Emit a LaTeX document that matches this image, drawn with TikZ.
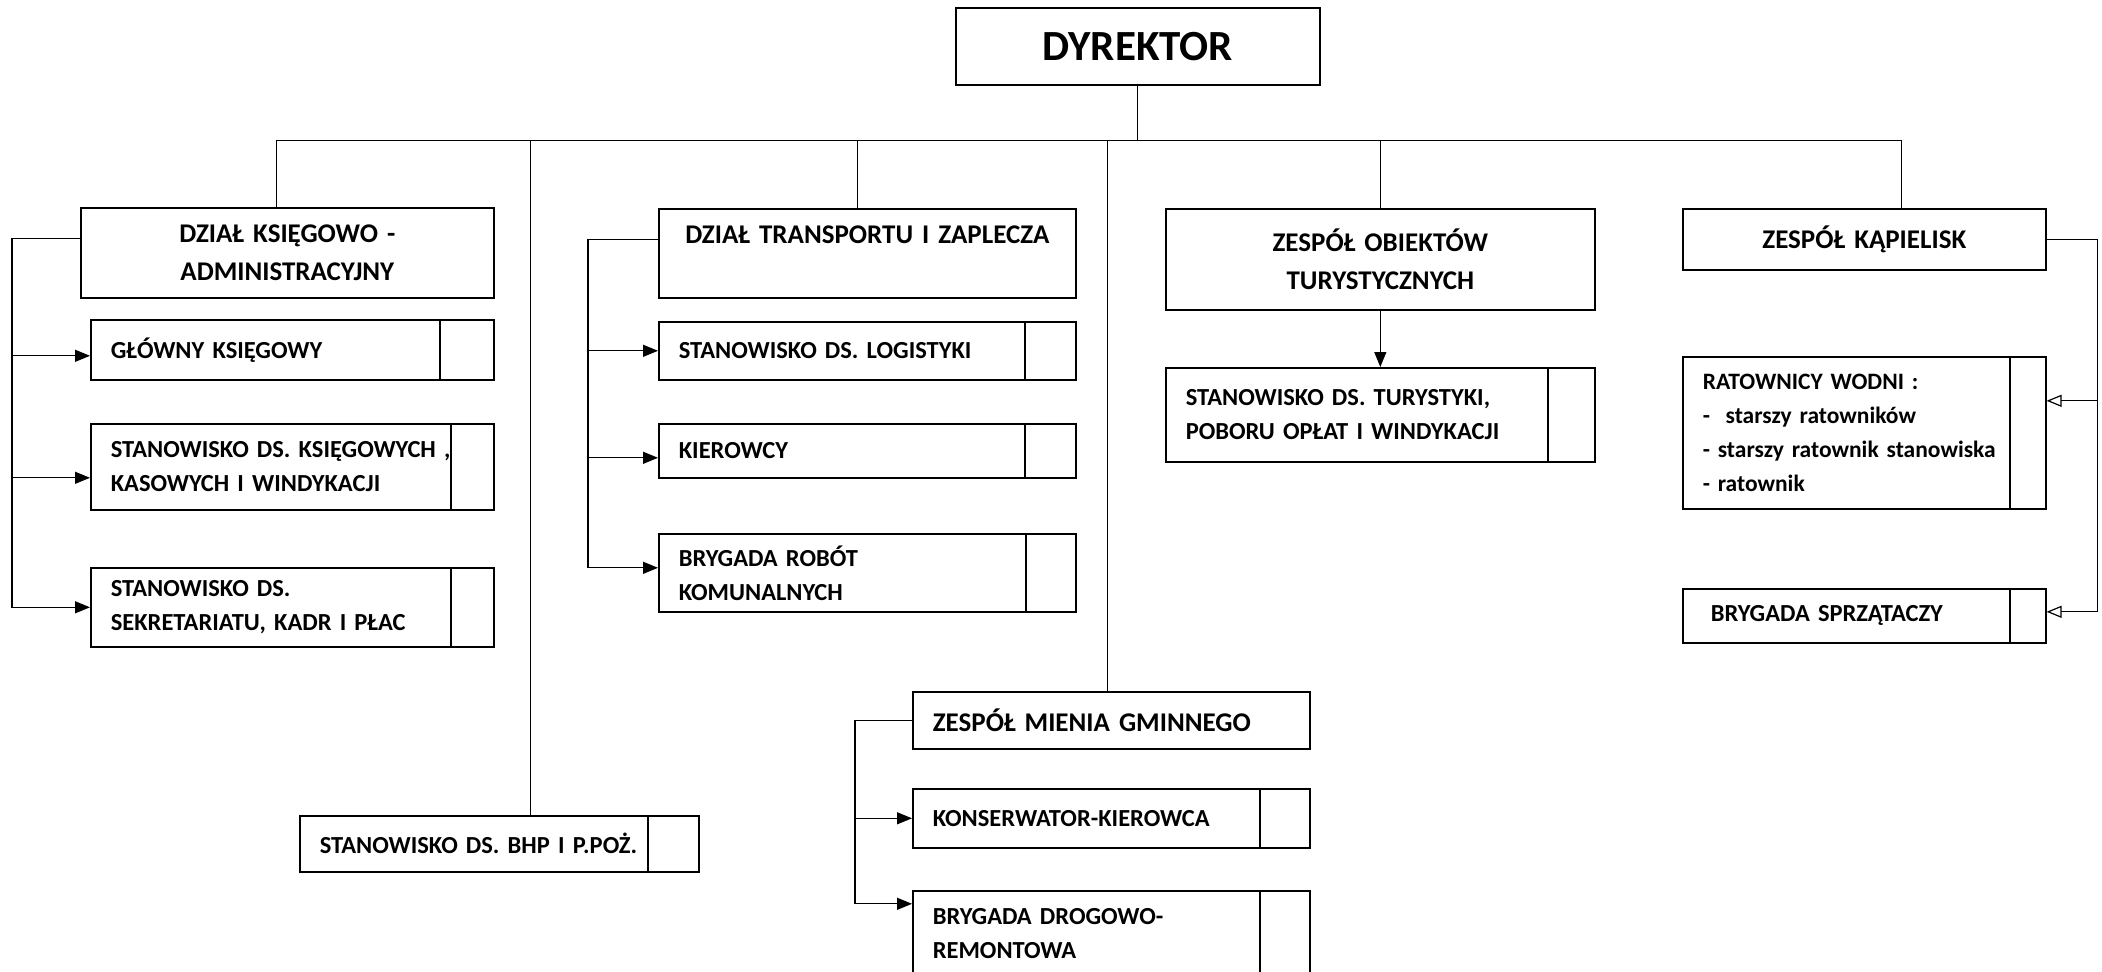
\documentclass[tikz,border=0pt]{standalone}
\usepackage{fontspec}
\setmainfont{Carlito}
\usetikzlibrary{arrows.meta}

\tikzset{
  unit/.style={draw, line width=1.6pt, anchor=north west, inner xsep=20pt, inner ysep=0pt,
    align=left, font=\bfseries\fontsize{24.5}{34}\selectfont},
  head/.style={unit, align=center, font=\bfseries\fontsize{27}{38}\selectfont},
  divider/.style={path picture={\draw[line width=1.6pt]
    ([xshift=-#1]path picture bounding box.north east) --
    ([xshift=-#1]path picture bounding box.south east);}},
  openarr/.style={-{Triangle[open, length=15pt, width=12pt]}}
}

\begin{document}
\begin{tikzpicture}[x=1pt, y=-1pt,
        line width=1.2pt,
        >={Triangle[length=15pt, width=12pt]}]
        \useasboundingbox (0,0) rectangle (2102,972);
        % top
        \node at (955,7) (dyr) [head, minimum width=364pt, minimum height=77pt, text width=324pt, font=\bfseries\fontsize{43}{50}\selectfont] {DYREKTOR};
        % dzial ksiegowo-administracyjny
        \node at (80,207) (dka) [head, minimum width=413pt, minimum height=90pt, text width=373pt] {DZIAŁ KSIĘGOWO -\\ADMINISTRACYJNY};
        \node at (90,319) (gk) [unit, divider=54pt, minimum width=403pt, minimum height=60pt, text width=363pt] {GŁÓWNY KSIĘGOWY};
        \node at (90,423) (sk) [unit, divider=43pt, minimum width=403pt, minimum height=86pt, text width=363pt] {STANOWISKO DS. KSIĘGOWYCH ,\\KASOWYCH I WINDYKACJI};
        \node at (90,567) (ss) [unit, divider=43pt, minimum width=403pt, minimum height=79pt, text width=363pt] {STANOWISKO DS.\\SEKRETARIATU, KADR I PŁAC};
        % dzial transportu
        \node at (658,208) (dtz) [head, minimum width=417pt, minimum height=89pt, text width=377pt] {DZIAŁ TRANSPORTU I ZAPLECZA\\\mbox{}};
        \node at (658,321) (sl) [unit, divider=51pt, minimum width=417pt, minimum height=58pt, text width=377pt] {STANOWISKO DS. LOGISTYKI};
        \node at (658,423) (kier) [unit, divider=51pt, minimum width=417pt, minimum height=54pt, text width=377pt] {KIEROWCY};
        \node at (658,533) (brk) [unit, divider=50pt, minimum width=417pt, minimum height=78pt, text width=377pt] {BRYGADA ROBÓT\\KOMUNALNYCH};
        % obiekty turystyczne
        \node at (1165,208) (zot) [head, minimum width=429pt, minimum height=101pt, text width=389pt] {ZESPÓŁ OBIEKTÓW\\TURYSTYCZNYCH};
        \node at (1165,367) (stu) [unit, divider=47pt, minimum width=429pt, minimum height=94pt, text width=389pt] {STANOWISKO DS. TURYSTYKI,\\POBORU OPŁAT I WINDYKACJI};
        % kapieliska
        \node at (1682,208) (zk) [head, minimum width=363pt, minimum height=61pt, text width=323pt] {ZESPÓŁ KĄPIELISK};
        \node at (1682,356) (rw) [unit, divider=36pt, minimum width=363pt, minimum height=152pt, text width=323pt, font=\bfseries\fontsize{23.5}{34}\selectfont] {RATOWNICY WODNI :\\-\ \ starszy ratowników\\- starszy ratownik stanowiska\\- ratownik};
        \node at (1682,588) (bs) [unit, divider=36pt, minimum width=363pt, minimum height=54pt, text width=323pt] {\hspace*{8pt}BRYGADA SPRZĄTACZY};
        % bhp
        \node at (299,815) (bhp) [unit, divider=51pt, minimum width=399pt, minimum height=56pt, text width=359pt] {STANOWISKO DS. BHP I P.POŻ.};
        % mienie gminne
        \node at (912,691) (zmg) [unit, minimum width=397pt, minimum height=57pt, text width=357pt, font=\bfseries\fontsize{27}{38}\selectfont] {ZESPÓŁ MIENIA GMINNEGO};
        \node at (912,788) (kk) [unit, divider=50pt, minimum width=397pt, minimum height=59pt, text width=357pt] {KONSERWATOR-KIEROWCA};
        \node at (912,890) (bdr) [unit, divider=50pt, minimum width=397pt, minimum height=86pt, text width=357pt] {BRYGADA DROGOWO-\\REMONTOWA};

        % bus
        \path (dyr.south) ++(0,55) coordinate (bus);
        \draw (dyr.south) -- (bus);
        \draw ([xshift=-11pt]dka.north) |- (bus) -| ([xshift=37pt]zk.north);
        \draw ([xshift=31pt]bhp.north) -- ([xshift=31pt]bhp.north |- bus);
        \draw ([xshift=-10pt]dtz.north) -- ([xshift=-10pt]dtz.north |- bus);
        \draw ([xshift=-4pt]zmg.north) -- ([xshift=-4pt]zmg.north |- bus);
        \draw (zot.north) -- (zot.north |- bus);

        \draw[->] ([yshift=14pt]dka.west) -| ([xshift=-78pt]ss.west) -- (ss.west);
        \draw[->] ([xshift=-78pt, yshift=-6pt]gk.west) -- ([yshift=-6pt]gk.west);
        \draw[->] ([xshift=-78pt, yshift=-11pt]sk.west) -- ([yshift=-11pt]sk.west);

        \draw[->] ([yshift=14pt]dtz.west) -| ([xshift=-70pt, yshift=5pt]brk.west) -- ([yshift=5pt]brk.west);
        \draw[->] ([xshift=-70pt]sl.west) -- (sl.west);
        \draw[->] ([xshift=-70pt, yshift=-7pt]kier.west) -- ([yshift=-7pt]kier.west);

        \draw[->] (zot.south) -- (stu.north);

        \draw[openarr] (zk.east) -| ([xshift=51pt, yshift=4pt]bs.east) -- ([yshift=4pt]bs.east);
        \draw[openarr] ([xshift=51pt, yshift=32pt]rw.east) -- ([yshift=32pt]rw.east);

        \draw[->] (zmg.west) -| ([xshift=-57pt, yshift=30pt]bdr.west) -- ([yshift=30pt]bdr.west);
        \draw[->] ([xshift=-57pt]kk.west) -- (kk.west);
\end{tikzpicture}
\end{document}
